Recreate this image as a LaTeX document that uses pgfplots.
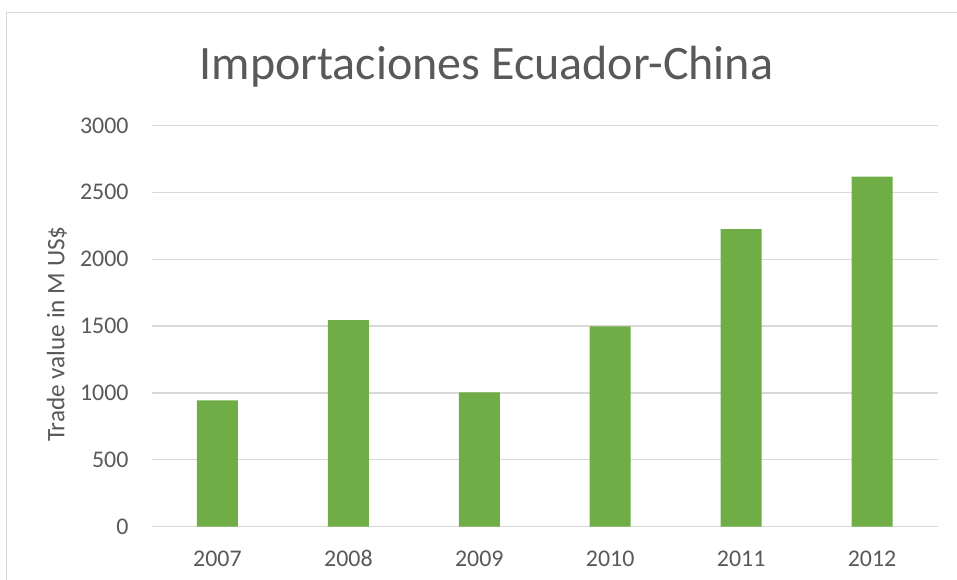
\documentclass[border=0pt]{standalone}
\usepackage{pgfplots}
\pgfplotsset{compat=1.18}
\usepackage{fontspec}
\setmainfont{Carlito}
\definecolor{bargreen}{HTML}{70AD47}
\definecolor{txtgray}{HTML}{595959}
\definecolor{gridgray}{HTML}{D9D9D9}
\begin{document}
\begin{tikzpicture}[x=1bp,y=1bp]
\useasboundingbox (0,0) rectangle (957,580);
\draw[gridgray, line width=1.3bp] (6.5,-5) -- (6.5,567.5) -- (965,567.5);
\node[anchor=base, text=txtgray, font=\fontsize{48.2}{58}\selectfont, inner sep=0pt] at (486.5,500) {Importaciones Ecuador-China};
\begin{axis}[
  at={(152bp,53.3bp)}, anchor=south west,
  scale only axis, width=785.5bp, height=401.3bp,
  xmin=-0.5, xmax=5.5, ymin=0, ymax=3000,
  ytick={0,500,1000,1500,2000,2500,3000},
  xtick=data,
  xticklabels={2007,2008,2009,2010,2011,2012},
  axis line style={draw=none},
  major tick length=0pt,
  ymajorgrids, grid style={gridgray, line width=1.3bp},
  ybar, bar width=0.313,
  tick label style={text=txtgray, font=\fontsize{24}{29}\selectfont},
  /pgf/number format/assume math mode=true,
  /pgf/number format/1000 sep={},
  yticklabel style={anchor=east, xshift=-20bp},
  xticklabel style={anchor=base, yshift=-39.5bp},
  ylabel={Trade value in M US\$},
  ylabel style={at={(axis description cs:-0.121,0.48)}, anchor=center, text=txtgray, font=\fontsize{25.3}{30}\selectfont},
]
\addplot[fill=bargreen, draw=none] coordinates {(0,945) (1,1545) (2,1005) (3,1498) (4,2224) (5,2617)};
\end{axis}
\end{tikzpicture}
\end{document}
